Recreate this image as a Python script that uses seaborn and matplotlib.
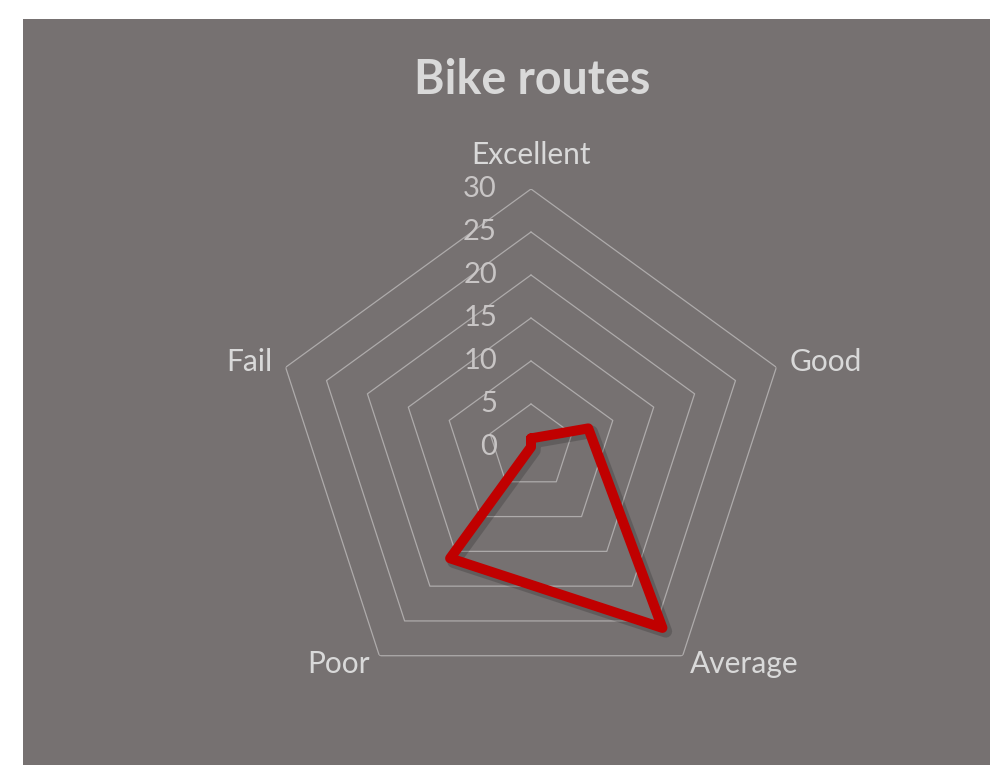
import numpy as np
import pandas as pd
import matplotlib
matplotlib.use("Agg")
import matplotlib.pyplot as plt
import matplotlib.patheffects as pe
from matplotlib.patches import Rectangle
import seaborn as sns

# Data
categories = ["Excellent", "Good", "Average", "Poor", "Fail"]
values = [1, 7, 26, 16, 0]
ring_ticks = [0, 5, 10, 15, 20, 25, 30]
title = "Bike routes"

BG = "#767171"
TEXT = "#d9d9d9"
TICK_TEXT = "#c8c5c5"
GRID = "#aeabab"
RED = "#c00000"

sns.set_theme(style="white")
plt.rcParams["font.family"] = ["Lato", "DejaVu Sans"]

W, H = 990, 765
fig = plt.figure(figsize=(W / 100, H / 100), dpi=100, facecolor="white")
# grey chart area (white margin on the left and top)
fig.patches.append(Rectangle((23 / W, 0), 1 - 23 / W, 1 - 19 / H,
                             transform=fig.transFigure, facecolor=BG,
                             edgecolor="none", zorder=-5))

# polar axes centred at (531, 447) px, radius 258 px for r=30
cx, cy, R = 531, 447, 258
ax = fig.add_axes([(cx - R) / W, (H - cy - R) / H, 2 * R / W, 2 * R / H],
                  projection="polar")
ax.set_facecolor("none")
ax.set_theta_offset(np.pi / 2)
ax.set_theta_direction(-1)
ax.grid(False)
ax.spines["polar"].set_visible(False)

n = len(categories)
theta = np.arange(n) * 2 * np.pi / n
theta_closed = np.append(theta, 2 * np.pi)

# pentagon gridlines
for t in ring_ticks[1:]:
    ax.plot(theta_closed, [t] * (n + 1), color=GRID, lw=0.9, zorder=1)

df = pd.DataFrame({"theta": theta_closed, "value": values + values[:1]})
sns.lineplot(data=df, x="theta", y="value", sort=False, estimator=None,
             color=RED, linewidth=7.2, ax=ax, zorder=3,
             solid_joinstyle="round", solid_capstyle="round",
             path_effects=[pe.SimpleLineShadow(offset=(2.5, -2.5), alpha=0.22,
                                               linewidth=9),
                           pe.Normal()])
ax.set_xlabel("")
ax.set_ylabel("")
ax.set_xticks([])
ax.set_yticks([])
ax.set_ylim(0, 30)

px = 0.72  # pixels -> points
# ring value labels
for t in ring_ticks:
    ax.annotate(str(t), xy=(0, t), xytext=(-34 * px, 0),
                textcoords="offset points", ha="right", va="center",
                fontsize=21, color=TICK_TEXT, zorder=4)

# category labels
label_pos = [
    ((0, 34), "center"),
    ((13, 5), "left"),
    ((7, -8), "left"),
    ((-9, -8), "right"),
    ((-13, 5), "right"),
]
for ang, cat, ((dx, dy), ha) in zip(theta, categories, label_pos):
    ax.annotate(cat, xy=(ang, 30), xytext=(dx * px, dy * px),
                textcoords="offset points", ha=ha, va="center",
                fontsize=21.5, color=TEXT, annotation_clip=False)

fig.text(532 / W, 1 - 80 / H, title, ha="center", va="center",
         fontsize=33.5, fontweight="bold", color=TEXT)

fig.savefig("out.png", dpi=100, facecolor="white")
